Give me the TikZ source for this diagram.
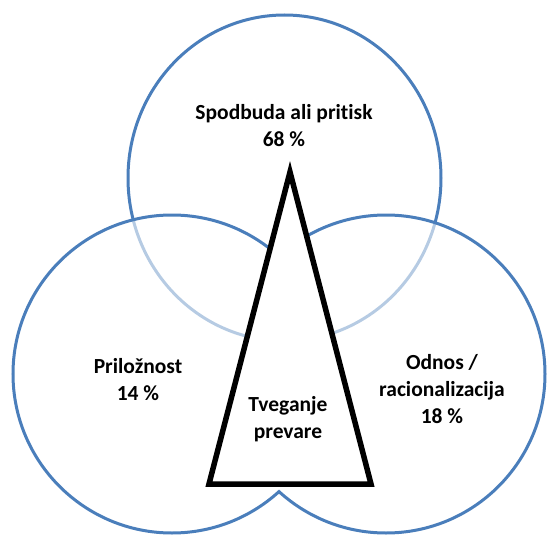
\documentclass[tikz,border=0pt]{standalone}
\usepackage{fontspec}
\setmainfont{Carlito}[Ligatures=NoCommon]
\usetikzlibrary{calc, positioning, shapes.geometric}

\definecolor{ringblue}{RGB}{74,126,187}

\begin{document}
\begin{tikzpicture}[x=1pt, y=-1pt,
    ring/.style={circle, draw=ringblue, line width=3pt, minimum size=318pt, inner sep=0pt},
    lbl/.style={align=center, font=\fontsize{21.5}{27}\selectfont\bfseries, text=black}]
      \useasboundingbox (0,0) rectangle (547,538);

      \node[ring, ellipse, minimum width=313pt, minimum height=326pt] (Top) at (284.5,178) {};
      % lower rings meet on the line x=279
      \foreach \i/\cx/\xa/\xb in {Left/172/0/279, Right/386/279/547} {
        \begin{scope}
          \clip (\xa,-5) rectangle (\xb,545);
          \node[ring, fill=white, fill opacity=0.6] (\i) at (\cx,374) {};
        \end{scope}
      }

      \coordinate (Apex) at (290,172);
      \coordinate (BaseL) at (209,484);
      \coordinate (BaseR) at (371,484);
      \draw[line width=5.5pt, line join=miter, fill=white] (Apex) -- (BaseL) -- (BaseR) -- cycle;

      \node[lbl] (Pressure) at (284,126) {Spodbuda ali pritisk\\68 \%};
      \node[lbl] (Chance) at (138,380) {Priložnost\\14 \%};
      \node[lbl] (Attitude) at (442,389) {Odnos /\\racionalizacija\\18 \%};
      \node[lbl] (Risk) at (288,419) {Tveganje\\prevare};
    \end{tikzpicture}
\end{document}
